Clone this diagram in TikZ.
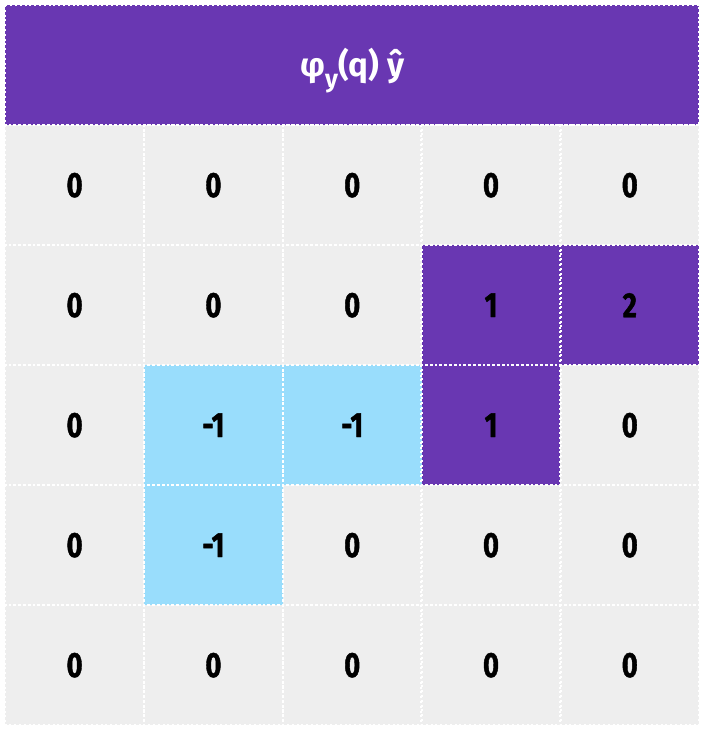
\documentclass[tikz,border=0pt]{standalone}
\usepackage{fontspec}
\setmainfont{Fira Sans}
\newfontfamily\cellfont{Fira Sans}[FakeStretch=0.78,BoldFeatures={FakeBold=1.2}]
\definecolor{hdrpurple}{HTML}{6937B2}
\definecolor{cellgrey}{HTML}{EEEEEE}
\definecolor{cellblue}{HTML}{99DDFC}
\begin{document}
\begin{tikzpicture}[x=1pt,y=-1pt,
  gridline/.style={draw=white,line width=2pt,dash pattern=on 2pt off 2.8pt},
  cellbox/.style={minimum width=138.8pt,minimum height=120pt,inner sep=0pt,anchor=north west,font=\cellfont\fontsize{35}{35}\selectfont\bfseries,text=black},
  greycell/.style={cellbox,fill=cellgrey},
  purplecell/.style={cellbox,fill=hdrpurple},
  bluecell/.style={cellbox,fill=cellblue},
  header/.style={fill=hdrpurple,minimum width=694pt,minimum height=120pt,inner sep=0pt,anchor=north west,text=white,font=\fontsize{33}{33}\selectfont\bfseries}]
\useasboundingbox[fill=white] (0,0) rectangle (703,729);
\node[header] (hdr) at (5,5) {\raisebox{-5pt}[\height][\depth]{φ\raisebox{-0.33em}{\fontsize{25}{25}\selectfont y}(q) ŷ}};
% row 1
\node[greycell] (c11) at (5,125) {0};
\node[greycell] (c12) at (143.8,125) {0};
\node[greycell] (c13) at (282.6,125) {0};
\node[greycell] (c14) at (421.4,125) {0};
\node[greycell] (c15) at (560.2,125) {0};
% row 2
\node[greycell] (c21) at (5,245) {0};
\node[greycell] (c22) at (143.8,245) {0};
\node[greycell] (c23) at (282.6,245) {0};
\node[purplecell] (c24) at (421.4,245) {1};
\node[purplecell] (c25) at (560.2,245) {2};
% row 3
\node[greycell] (c31) at (5,365) {0};
\node[bluecell] (c32) at (143.8,365) {-1};
\node[bluecell] (c33) at (282.6,365) {-1};
\node[purplecell] (c34) at (421.4,365) {1};
\node[greycell] (c35) at (560.2,365) {0};
% row 4
\node[greycell] (c41) at (5,485) {0};
\node[bluecell] (c42) at (143.8,485) {-1};
\node[greycell] (c43) at (282.6,485) {0};
\node[greycell] (c44) at (421.4,485) {0};
\node[greycell] (c45) at (560.2,485) {0};
% row 5
\node[greycell] (c51) at (5,605) {0};
\node[greycell] (c52) at (143.8,605) {0};
\node[greycell] (c53) at (282.6,605) {0};
\node[greycell] (c54) at (421.4,605) {0};
\node[greycell] (c55) at (560.2,605) {0};
% dotted borders on top of all fills
\foreach \n in {hdr,c11,c12,c13,c14,c15,c21,c22,c23,c24,c25,c31,c32,c33,c34,c35,c41,c42,c43,c44,c45,c51,c52,c53,c54,c55}
  \draw[gridline] (\n.north west) rectangle (\n.south east);
\end{tikzpicture}
\end{document}
